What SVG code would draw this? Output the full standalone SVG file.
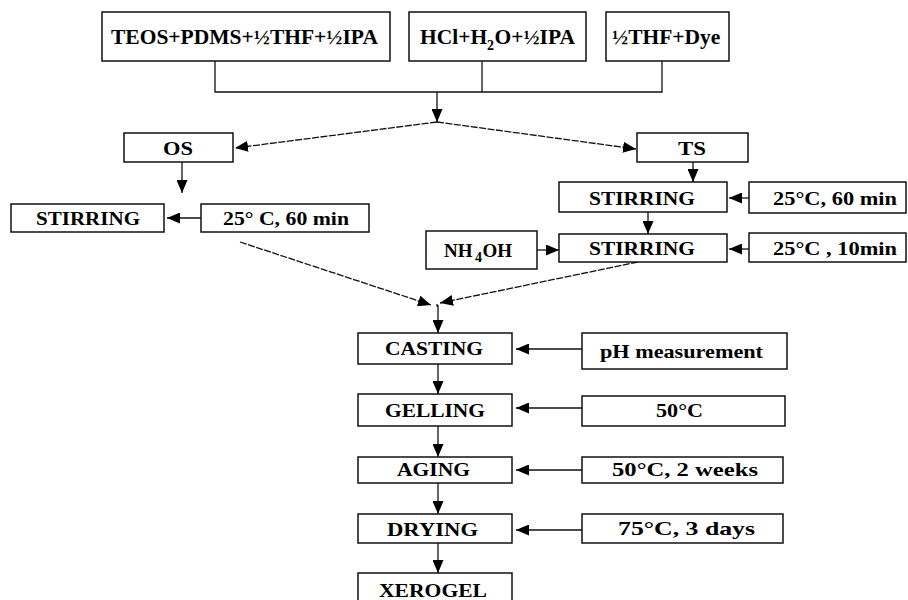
<svg xmlns="http://www.w3.org/2000/svg" width="908" height="600" viewBox="0 0 908 600">
<defs>
<style>
.n rect{fill:#fff;stroke:#111;stroke-width:1.5}
text{font-family:"Liberation Serif","Times New Roman",serif;font-weight:bold;font-size:19px;fill:#000;}
.big{font-size:21.5px}
.sub{font-size:14px}
.c line,.c polyline{stroke:#111;stroke-width:1.3;fill:none}
.c .d{stroke-dasharray:7 1.5}
</style>
<marker id="ah" markerUnits="userSpaceOnUse" markerWidth="13" markerHeight="11" refX="13" refY="5.5" orient="auto">
<path d="M0,0 L13,5.5 L0,11 z" fill="#000"/>
</marker>
</defs>
<rect width="908" height="600" fill="#fff"/>
<g class="c" id="connectors">
<polyline points="215,61 215,92 662,92 662,61"/>
<line x1="482" y1="61" x2="482" y2="92"/>
<line x1="437" y1="92" x2="437" y2="122" marker-end="url(#ah)"/>
<line class="d" x1="437" y1="122" x2="235" y2="148" marker-end="url(#ah)"/>
<line class="d" x1="437" y1="122" x2="636" y2="149" marker-end="url(#ah)"/>
<line x1="182" y1="162" x2="182" y2="193" marker-end="url(#ah)"/>
<line x1="201" y1="218" x2="167" y2="218" marker-end="url(#ah)"/>
<line class="d" x1="240" y1="242" x2="431" y2="305" marker-end="url(#ah)"/>
<line x1="693" y1="162" x2="693" y2="182" marker-end="url(#ah)"/>
<line x1="749" y1="198" x2="729" y2="198" marker-end="url(#ah)"/>
<line x1="648" y1="212" x2="648" y2="234" marker-end="url(#ah)"/>
<line x1="537" y1="250" x2="559" y2="250" marker-end="url(#ah)"/>
<line x1="749" y1="249" x2="729" y2="249" marker-end="url(#ah)"/>
<line class="d" x1="638" y1="262" x2="440" y2="303" marker-end="url(#ah)"/>
<polyline points="437,304 437,306 438,306"/>
<line x1="438" y1="305" x2="438" y2="333" marker-end="url(#ah)"/>
<line x1="582" y1="349" x2="516" y2="349" marker-end="url(#ah)"/>
<line x1="438" y1="364" x2="438" y2="394" marker-end="url(#ah)"/>
<line x1="582" y1="408" x2="516" y2="408" marker-end="url(#ah)"/>
<line x1="438" y1="426" x2="438" y2="457" marker-end="url(#ah)"/>
<line x1="582" y1="470" x2="516" y2="470" marker-end="url(#ah)"/>
<line x1="438" y1="483" x2="438" y2="514" marker-end="url(#ah)"/>
<line x1="582" y1="530" x2="516" y2="530" marker-end="url(#ah)"/>
<line x1="438" y1="543" x2="438" y2="573" marker-end="url(#ah)"/>
</g>
<g class="n" id="n-teos"><rect x="102" y="12" width="288" height="49"/><text class="big" x="111" y="44">TEOS+PDMS+½THF+½IPA</text></g>
<g class="n" id="n-hcl"><rect x="409" y="12" width="177" height="49"/><text class="big" x="420" y="44">HCl+H</text><text class="sub" x="487" y="50">2</text><text class="big" x="494.5" y="44">O+½IPA</text></g>
<g class="n" id="n-thf"><rect x="606" y="12" width="123" height="49"/><text class="big" x="612" y="44">½THF+Dye</text></g>
<g class="n" id="n-os"><rect x="124" y="133" width="109" height="29"/><text x="163" y="155" textLength="30" lengthAdjust="spacingAndGlyphs">OS</text></g>
<g class="n" id="n-ts"><rect x="637" y="133" width="111" height="29"/><text x="678" y="155" textLength="28" lengthAdjust="spacingAndGlyphs">TS</text></g>
<g class="n" id="n-stir-l"><rect x="11" y="204" width="153" height="28"/><text x="36" y="225" textLength="104" lengthAdjust="spacingAndGlyphs">STIRRING</text></g>
<g class="n" id="n-cond-l"><rect x="201" y="204" width="168" height="28"/><text x="223" y="225" textLength="126" lengthAdjust="spacingAndGlyphs">25° C,  60 min</text></g>
<g class="n" id="n-stir-r1"><rect x="559" y="182" width="168" height="30"/><text x="589" y="205" textLength="106" lengthAdjust="spacingAndGlyphs">STIRRING</text></g>
<g class="n" id="n-cond-r1"><rect x="749" y="182" width="157" height="31"/><text x="773" y="205" textLength="124" lengthAdjust="spacingAndGlyphs">25°C,  60 min</text></g>
<g class="n" id="n-nh4oh"><rect x="426" y="231" width="111" height="38"/><text x="444" y="257" font-size="21">NH</text><text class="sub" x="475" y="262">4</text><text x="482.5" y="257" font-size="21">OH</text></g>
<g class="n" id="n-stir-r2"><rect x="559" y="234" width="168" height="28"/><text x="589" y="255" textLength="106" lengthAdjust="spacingAndGlyphs">STIRRING</text></g>
<g class="n" id="n-cond-r2"><rect x="749" y="233" width="157" height="29"/><text x="773" y="255" textLength="124" lengthAdjust="spacingAndGlyphs">25°C ,  10min</text></g>
<g class="n" id="n-casting"><rect x="358" y="333" width="154" height="31"/><text x="385" y="355" textLength="98" lengthAdjust="spacingAndGlyphs">CASTING</text></g>
<g class="n" id="n-ph"><rect x="582" y="333" width="205" height="36"/><text x="600" y="358" textLength="163" lengthAdjust="spacingAndGlyphs">pH measurement</text></g>
<g class="n" id="n-gelling"><rect x="358" y="394" width="154" height="32"/><text x="385" y="417" textLength="100" lengthAdjust="spacingAndGlyphs">GELLING</text></g>
<g class="n" id="n-50c"><rect x="582" y="396" width="203" height="30"/><text x="656" y="417" textLength="47" lengthAdjust="spacingAndGlyphs">50°C</text></g>
<g class="n" id="n-aging"><rect x="358" y="457" width="154" height="26"/><text x="397" y="476" textLength="73" lengthAdjust="spacingAndGlyphs">AGING</text></g>
<g class="n" id="n-50c2w"><rect x="582" y="457" width="201" height="26"/><text x="612" y="476" textLength="146" lengthAdjust="spacingAndGlyphs">50°C,  2 weeks</text></g>
<g class="n" id="n-drying"><rect x="358" y="514" width="154" height="29"/><text x="387" y="536" textLength="91" lengthAdjust="spacingAndGlyphs">DRYING</text></g>
<g class="n" id="n-75c"><rect x="582" y="514" width="201" height="29"/><text x="618" y="535" textLength="137" lengthAdjust="spacingAndGlyphs">75°C,  3 days</text></g>
<g class="n" id="n-xerogel"><rect x="358" y="573" width="154" height="40"/><text x="379" y="597" textLength="108" lengthAdjust="spacingAndGlyphs">XEROGEL</text></g>
</svg>
